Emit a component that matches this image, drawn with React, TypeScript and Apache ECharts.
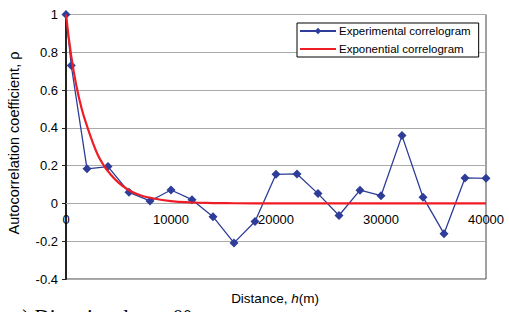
import React, { useEffect, useRef } from "react";
import * as echarts from "echarts";

const expDistances = [0, 500, 2000, 4000, 6000, 8000, 10000, 12000, 14000, 16000, 18000, 20000, 22000, 24000, 26000, 28000, 30000, 32000, 34000, 36000, 38000, 40000];
const expValues = [1, 0.73, 0.183, 0.195, 0.059, 0.013, 0.071, 0.02, -0.07, -0.209, -0.096, 0.154, 0.156, 0.052, -0.064, 0.07, 0.041, 0.359, 0.033, -0.16, 0.135, 0.133];

const modelDistances = [0, 500, 1000, 1500, 2000, 2500, 3000, 3500, 4000, 5000, 6000, 7000, 8000, 10000, 12000, 14000, 16000, 20000, 25000, 30000, 35000, 40000];
const modelValues = [1, 0.78, 0.62, 0.5, 0.41, 0.33, 0.26, 0.21, 0.17, 0.11, 0.07, 0.045, 0.03, 0.012, 0.005, 0.002, 0.001, 0, 0, 0, 0, 0];

const seriesNames = ["Experimental correlogram", "Exponential correlogram"];
const yTitle = "Autocorrelation coefficient, ρ";
const caption = "a) Directional, α = 0°";

export default function App() {
  const ref = useRef<HTMLDivElement>(null);
  useEffect(() => {
    if (!ref.current) return;
    const chart = echarts.init(ref.current, null, { renderer: "svg" });
    const font = "'Liberation Sans', Arial, sans-serif";
    const gridTop = 14.5;
    const gridBottom = 33;
    const plotH = 312 - gridTop - gridBottom;
    const zeroOffset = -(plotH * 0.4) / 1.4;
    chart.setOption({
      animation: false,
      textStyle: { fontFamily: font },
      grid: {
        left: 66,
        right: 23,
        top: gridTop,
        bottom: gridBottom,
        show: true,
        borderColor: "#444",
        borderWidth: 1,
        backgroundColor: "transparent",
      },
      legend: {
        orient: "vertical",
        left: 297,
        top: 23,
        backgroundColor: "#fff",
        borderColor: "#000",
        borderWidth: 1,
        padding: [1, 8, 1, 2],
        itemGap: 4,
        itemWidth: 36,
        itemHeight: 8,
        textStyle: { fontFamily: font, fontSize: 11.5, color: "#000", padding: [0, 0, 0, -2], lineHeight: 14 },
        data: [
          { name: seriesNames[0] },
          { name: seriesNames[1], itemStyle: { opacity: 0 } },
        ],
      },
      xAxis: {
        type: "value",
        min: 0,
        max: 40000,
        interval: 10000,
        offset: zeroOffset,
        axisLine: { onZero: false, lineStyle: { color: "#aaa", width: 1 } },
        axisTick: { show: false },
        splitLine: { show: false },
        axisLabel: {
          color: "#000",
          fontSize: 13,
          margin: 10,
          fontFamily: font,
          formatter: (v: number) => String(v),
        },
      },
      yAxis: {
        type: "value",
        min: -0.4,
        max: 1,
        interval: 0.2,
        axisLine: { show: true, onZero: false, lineStyle: { color: "#222", width: 2 } },
        axisTick: { show: true, length: 4, lineStyle: { color: "#222" } },
        splitLine: { show: true, lineStyle: { color: "#aaa", width: 1 } },
        axisLabel: {
          color: "#000",
          fontSize: 13,
          margin: 8,
          fontFamily: font,
          formatter: (v: number) => String(Math.round(v * 10) / 10),
        },
      },
      graphic: [
        {
          type: "text",
          x: 14,
          y: 143,
          rotation: Math.PI / 2,
          style: {
            text: yTitle,
            fontSize: 14.5,
            fontFamily: font,
            fill: "#000",
            align: "center",
            verticalAlign: "middle",
          },
        },
        {
          type: "text",
          x: 275,
          y: 298,
          style: {
            text: "{a|Distance, }{b|h}{a|(m)}",
            align: "center",
            verticalAlign: "middle",
            rich: {
              a: { fontSize: 13.5, fontFamily: font, fill: "#000", color: "#000" },
              b: { fontSize: 13.5, fontFamily: font, fontStyle: "italic", fill: "#000", color: "#000" },
            },
          },
        },
        {
          type: "text",
          x: 13,
          y: 306.5,
          style: {
            text: caption,
            fontSize: 21,
            fontFamily: "'Liberation Serif', 'Times New Roman', serif",
            fill: "#000",
            align: "left",
            verticalAlign: "top",
          },
        },
      ],
      series: [
        {
          name: seriesNames[0],
          type: "line",
          data: expDistances.map((d, i) => [d, expValues[i]]),
          symbol: "diamond",
          symbolSize: 9,
          itemStyle: { color: "#2e3d98" },
          lineStyle: { color: "#2e3d98", width: 1.3 },
          z: 3,
        },
        {
          name: seriesNames[1],
          type: "line",
          data: modelDistances.map((d, i) => [d, modelValues[i]]),
          smooth: true,
          showSymbol: false,
          itemStyle: { color: "#ee1c25" },
          lineStyle: { color: "#ee1c25", width: 2.2 },
          z: 4,
        },
      ],
    });
    return () => chart.dispose();
  }, []);
  return (
    <div
      ref={ref}
      style={{ position: "fixed", left: 0, top: 0, width: 509, height: 312, background: "#fff" }}
    />
  );
}
